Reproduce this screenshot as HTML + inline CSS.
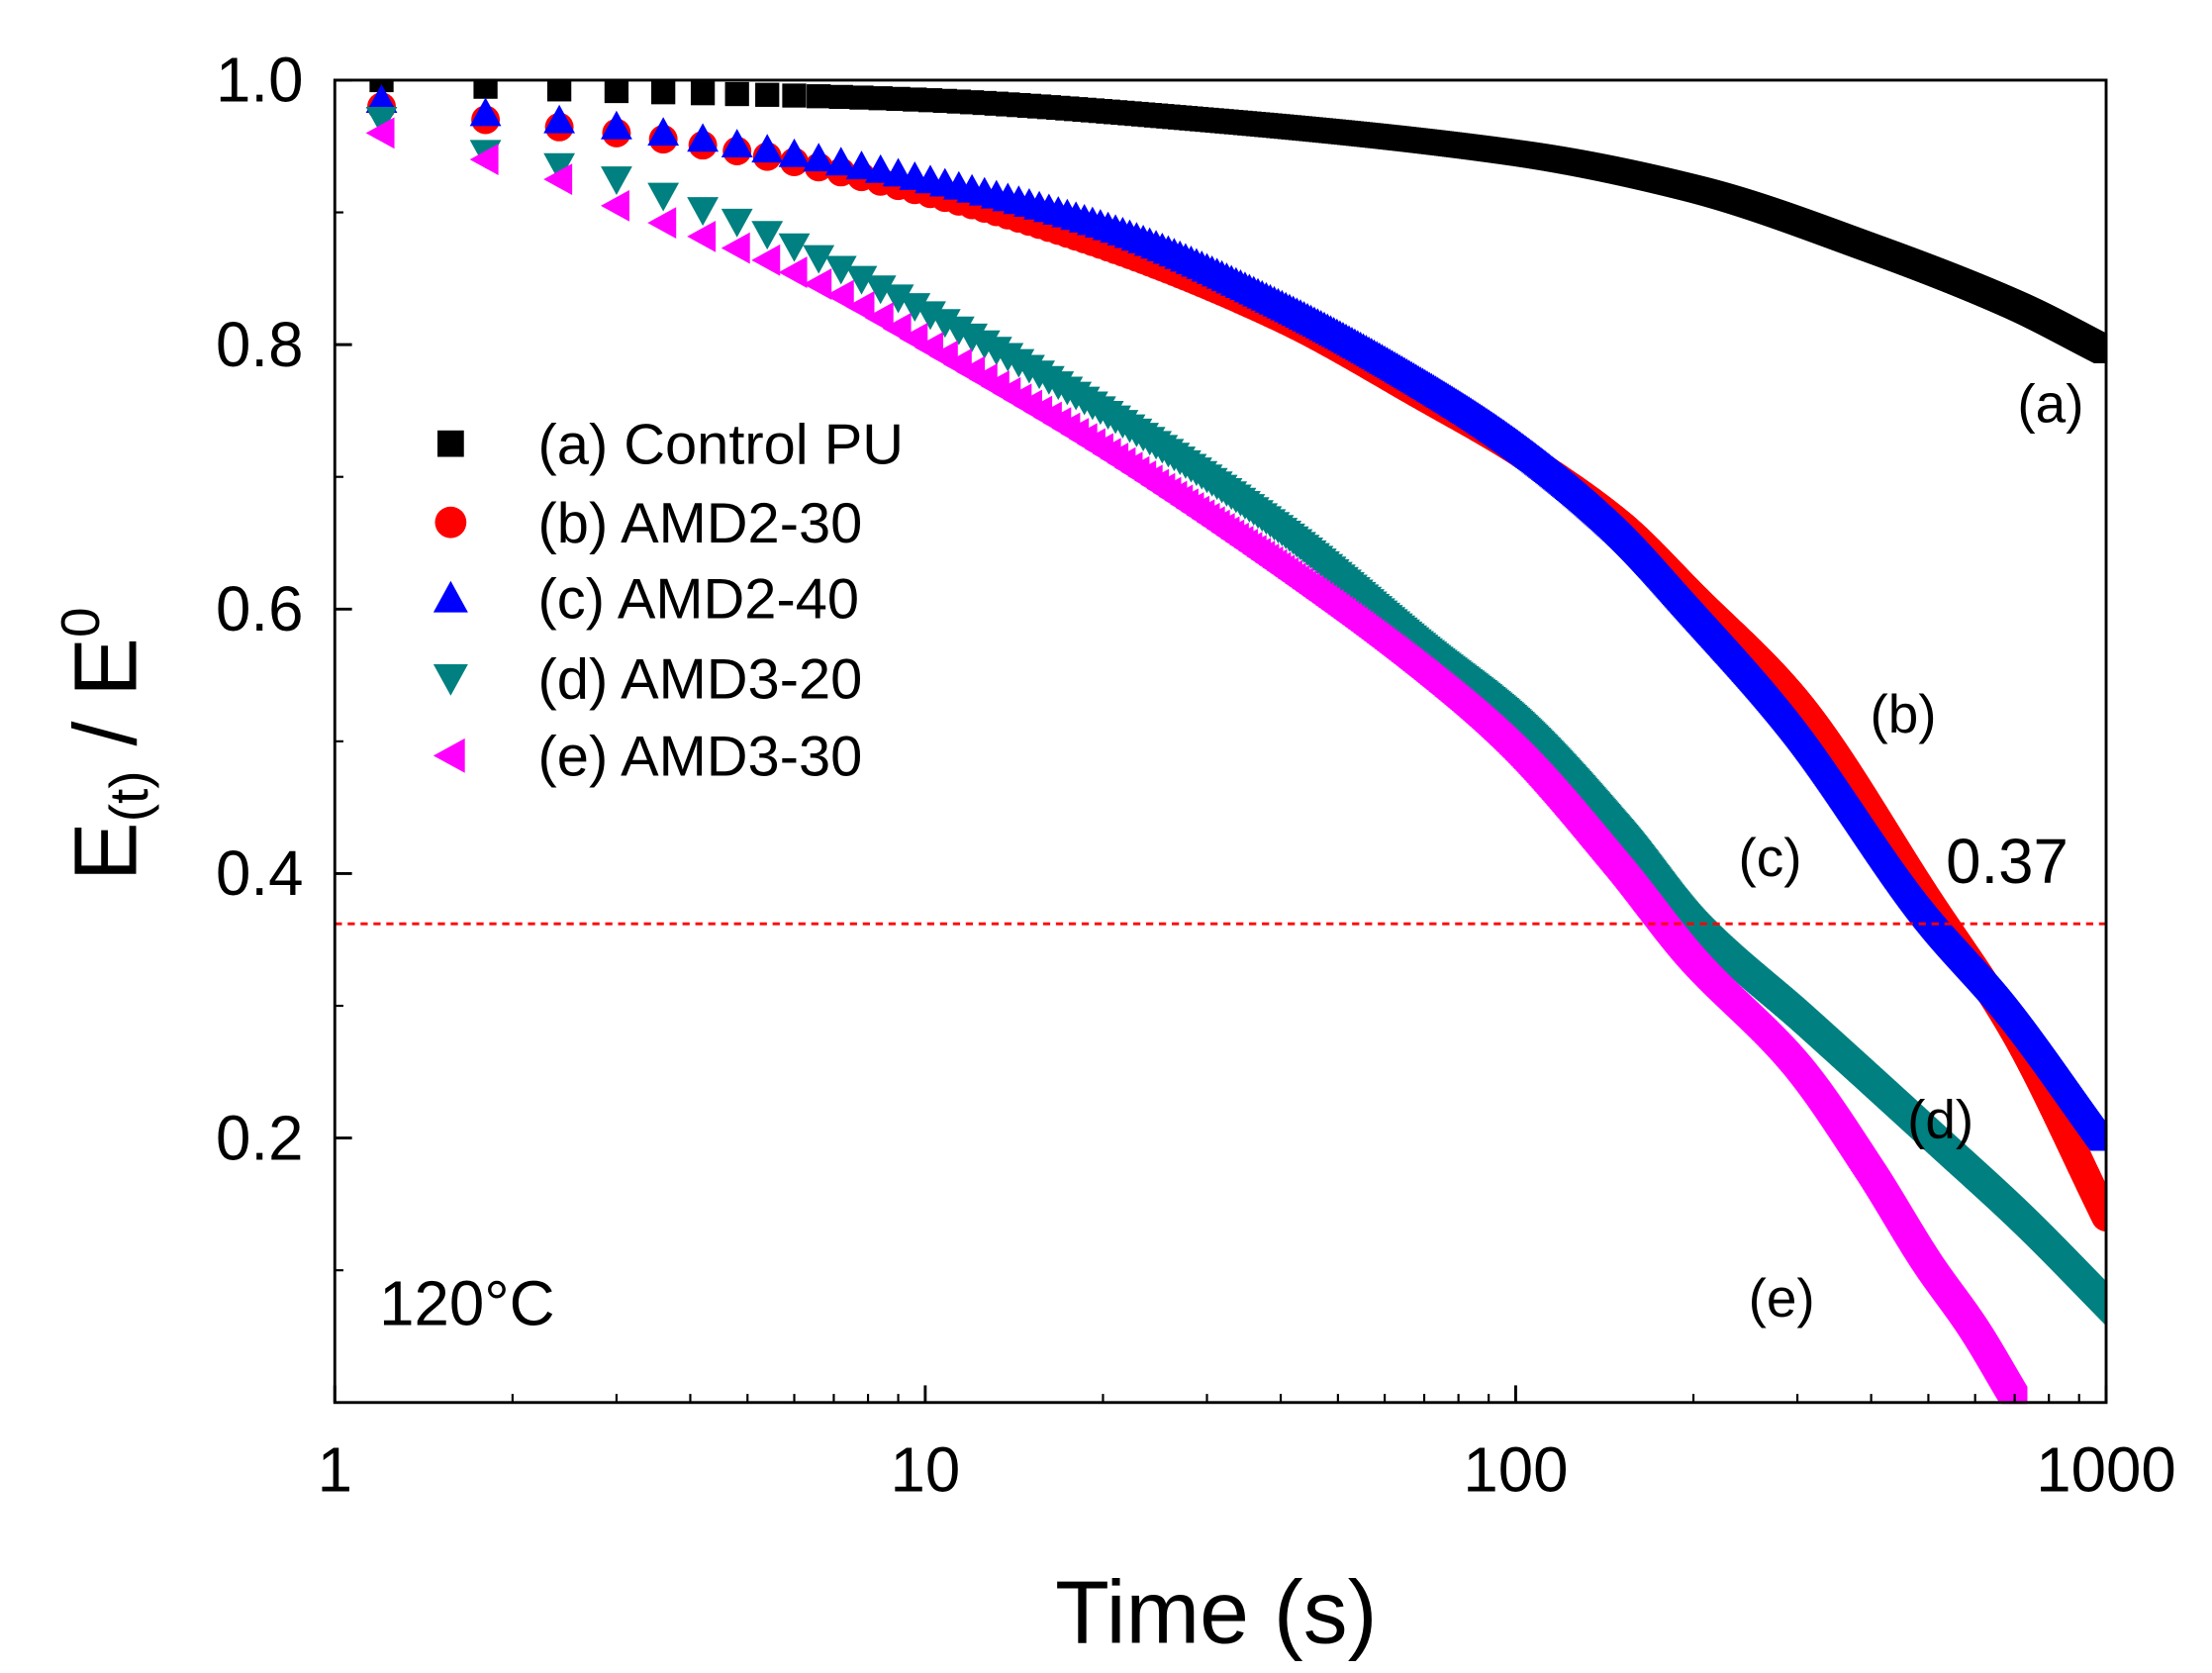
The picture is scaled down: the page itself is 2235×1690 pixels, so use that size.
<!DOCTYPE html>
<html><head><meta charset="utf-8"><style>
html,body{margin:0;padding:0;background:#fff}
svg{display:block}
text{font-family:"Liberation Sans",sans-serif}
</style></head><body>
<svg id="chart" width="2235" height="1690" viewBox="0 0 1546 1169" preserveAspectRatio="none" xmlns="http://www.w3.org/2000/svg">
<g id="marks"></g>
<g id="axes"></g>
<text x="850" y="1148" font-size="62" text-anchor="middle">Time (s)</text>
<text transform="translate(95,520) rotate(-90)" font-size="62" text-anchor="middle">E<tspan font-size="38" dy="8">(t)</tspan><tspan dy="-8"> / E</tspan><tspan font-size="38" dy="-26">0</tspan></text>
<text x="265" y="926" font-size="44">120°C</text>
<text x="1410" y="295" font-size="38">(a)</text>
<text x="1307" y="512" font-size="38">(b)</text>
<text x="1215" y="612" font-size="38">(c)</text>
<text x="1333" y="795" font-size="38">(d)</text>
<text x="1222" y="920" font-size="38">(e)</text>
<text x="1360" y="617" font-size="44">0.37</text>
<g id="legend"></g>
</svg>
<script>
const xTicks=[1,10,100,1000];
const xTickLabels=['1','10','100','1000'];
const yTicks=[0.2,0.4,0.6,0.8,1.0];
const yTickLabels=['0.2','0.4','0.6','0.8','1.0'];
const threshold=0.362;
const seriesNames=['(a) Control PU','(b) AMD2-30','(c) AMD2-40','(d) AMD3-20','(e) AMD3-30'];
const seriesColors=['#000000','#ff0000','#0000ff','#008080','#ff00ff'];
const seriesShapes=['square','circle','up','down','left'];
const tA=[1.2,1.8,10,30,100,200,400,700,1000];
const vA=[1.0,0.995,0.985,0.97,0.945,0.918,0.873,0.83,0.795];
const tB=[1.2,1.8,3,5,10,20,40,70,100,150,200,300,500,700,1000];
const vB=[0.98,0.97,0.96,0.945,0.915,0.875,0.82,0.76,0.72,0.665,0.61,0.53,0.38,0.28,0.14];
const tC=[1.2,1.8,3,5,10,20,40,70,100,150,200,300,500,700,1000];
const vC=[0.985,0.975,0.965,0.95,0.925,0.89,0.83,0.77,0.725,0.66,0.6,0.51,0.37,0.295,0.2];
const tD=[1.2,1.8,2.4,3,4,5,7,10,20,40,70,100,150,200,300,500,700,1000];
const vD=[0.97,0.945,0.935,0.925,0.905,0.89,0.86,0.825,0.75,0.66,0.57,0.515,0.43,0.36,0.29,0.2,0.14,0.07];
const tE=[1.2,1.8,2.4,3,4,5,7,10,20,40,70,100,150,200,300,400,500,600,700];
const vE=[0.96,0.94,0.925,0.905,0.885,0.87,0.84,0.8,0.72,0.63,0.55,0.49,0.40,0.33,0.25,0.17,0.1,0.05,0.0];
const seriesT=[tA,tB,tC,tD,tE];
const seriesV=[vA,vB,vC,vD,vE];

const NS='http://www.w3.org/2000/svg';
const X0=234,X1=1472,Y0=980,Y1=56;
function xs(t){return X0+Math.log10(t)/3*(X1-X0);}
function ys(v){return Y0-v*(Y0-Y1);}
function mk(tag,attrs,parent){const e=document.createElementNS(NS,tag);for(const k in attrs)e.setAttribute(k,attrs[k]);parent.appendChild(e);return e;}
function makeInterp(ts,vs){
  const x=ts.map(Math.log10),n=x.length,d=[],m=new Array(n);
  for(let i=0;i<n-1;i++)d.push((vs[i+1]-vs[i])/(x[i+1]-x[i]));
  m[0]=d[0];m[n-1]=d[n-2];
  for(let i=1;i<n-1;i++){m[i]=(d[i-1]*d[i]<=0)?0:2/(1/d[i-1]+1/d[i]);}
  return function(t){
    const lt=Math.log10(t);
    if(lt<x[0]-1e-9||lt>x[n-1]+1e-9)return null;
    let i=0;while(i<n-2&&lt>x[i+1])i++;
    const h=x[i+1]-x[i],s=(lt-x[i])/h;
    const h00=2*s*s*s-3*s*s+1,h10=s*s*s-2*s*s+s,h01=-2*s*s*s+3*s*s,h11=s*s*s-s*s;
    return h00*vs[i]+h10*h*m[i]+h01*vs[i+1]+h11*h*m[i+1];
  };
}
function shape(kind,cx,cy,s,color,parent){
  let e;
  if(kind==='square')e=mk('rect',{x:cx-s*0.42,y:cy-s*0.42,width:s*0.84,height:s*0.84,fill:color},parent);
  else if(kind==='circle')e=mk('circle',{cx:cx,cy:cy,r:s*0.5,fill:color},parent);
  else{let p;
    if(kind==='up')p=[[cx,cy-s*0.55],[cx-s*0.55,cy+s*0.45],[cx+s*0.55,cy+s*0.45]];
    else if(kind==='down')p=[[cx,cy+s*0.55],[cx-s*0.55,cy-s*0.45],[cx+s*0.55,cy-s*0.45]];
    else p=[[cx-s*0.55,cy],[cx+s*0.45,cy-s*0.55],[cx+s*0.45,cy+s*0.55]];
    e=mk('polygon',{points:p.map(q=>q.join(',')).join(' '),fill:color},parent);}
  return e;
}
const marks=document.getElementById('marks');
for(let s=0;s<5;s++){
  const f=makeInterp(seriesT[s],seriesV[s]);
  const g=mk('g',{},marks);
  
  
  for(let k=0;;k++){
    const t=1.2+0.6*k; if(t>1000)break;
    const v=f(t); if(v===null)continue;
    const m=shape(seriesShapes[s],xs(t),ys(v),20,seriesColors[s],g);
    
    
  }
}
const th=mk('line',{x1:X0,x2:X1,y1:ys(threshold),y2:ys(threshold),stroke:'#ff0000','stroke-width':2,'stroke-dasharray':'5,4'},marks);


const axes=document.getElementById('axes');
mk('rect',{x:0,y:Y0+1,width:1546,height:200,fill:'#fff'},axes);
mk('rect',{x:0,y:0,width:1546,height:Y1-1,fill:'#fff'},axes);
mk('rect',{x:X1+1,y:0,width:80,height:1169,fill:'#fff'},axes);
const fr=mk('rect',{x:X0,y:Y1,width:X1-X0,height:Y0-Y1,fill:'none',stroke:'#000','stroke-width':2},axes);


for(let i=0;i<xTicks.length;i++){
  const x=xs(xTicks[i]);
  mk('line',{x1:x,x2:x,y1:Y0,y2:Y0-12,stroke:'#000','stroke-width':2},axes);
  const tx=mk('text',{x:x,y:1042,'font-size':44,'text-anchor':'middle'},axes);
  tx.textContent=xTickLabels[i];
  
  
  if(i<xTicks.length-1)for(let m=2;m<10;m++){const xm=xs(xTicks[i]*m);mk('line',{x1:xm,x2:xm,y1:Y0,y2:Y0-6,stroke:'#000','stroke-width':1.5},axes);}
}
for(let v=0.1;v<1.0;v+=0.2){const y=ys(v);mk('line',{x1:X0,x2:X0+6,y1:y,y2:y,stroke:'#000','stroke-width':1.5},axes);}
for(let i=0;i<yTicks.length;i++){
  const y=ys(yTicks[i]);
  mk('line',{x1:X0,x2:X0+12,y1:y,y2:y,stroke:'#000','stroke-width':2},axes);
  const tx=mk('text',{x:212,y:y+15,'font-size':44,'text-anchor':'end'},axes);
  tx.textContent=yTickLabels[i];
  
  
}
const leg=document.getElementById('legend');
const legY=[310,365,418,474,528];
for(let s=0;s<5;s++){
  const g=mk('g',{},leg);
  
  
  shape(seriesShapes[s],315,legY[s],22,seriesColors[s],g);
  const tx=mk('text',{x:376,y:legY[s]+14,'font-size':40},g);
  tx.textContent=seriesNames[s];
}
</script>
</body></html>
